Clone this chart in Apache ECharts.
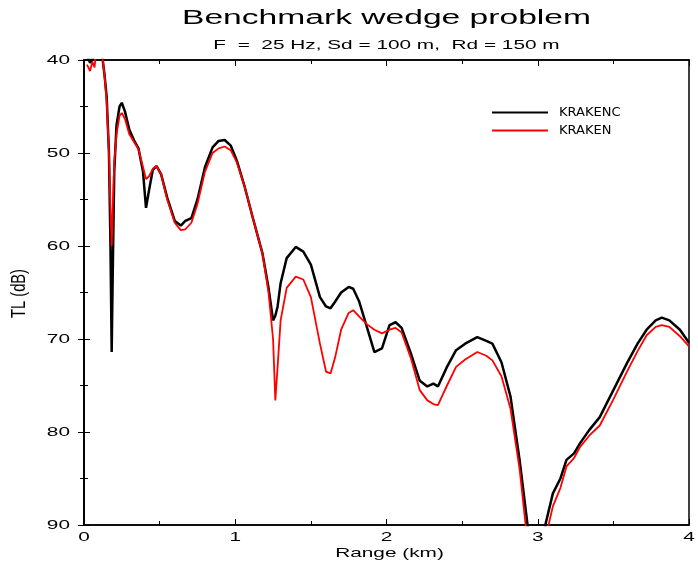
<!DOCTYPE html>
<html><head><meta charset="utf-8">
<script src="https://cdn.jsdelivr.net/npm/echarts@6/dist/echarts.min.js"></script>
<style>html,body{margin:0;padding:0;background:#fff}#c{width:698px;height:571px}</style>
</head><body><div id="c"></div>
<script>
const ranges = [0.02,0.04,0.055,0.07,0.085,0.10,0.12,0.135,0.15,0.165,0.175,0.183,0.19,0.20,0.215,0.235,0.25,0.27,0.30,0.33,0.36,0.39,0.41,0.43,0.455,0.48,0.51,0.55,0.60,0.64,0.67,0.71,0.75,0.80,0.85,0.89,0.93,0.97,1.01,1.06,1.12,1.18,1.22,1.25,1.265,1.28,1.30,1.34,1.40,1.45,1.50,1.56,1.60,1.63,1.66,1.70,1.75,1.78,1.82,1.87,1.92,1.97,2.02,2.06,2.10,2.16,2.22,2.27,2.31,2.34,2.40,2.46,2.52,2.60,2.66,2.70,2.76,2.82,2.88,2.94,3.00,3.05,3.10,3.15,3.19,3.24,3.28,3.34,3.41,3.50,3.59,3.66,3.72,3.78,3.82,3.87,3.94,4.00];
const krakenc = [39.5,40.3,40.0,39.0,37,37,39.5,41.5,44,50,60,71.4,63,52,47,45,44.6,45.5,47.5,48.6,49.5,52,55.9,54,51.8,51.4,52.3,54.8,57.3,57.8,57.3,57,55,51.5,49.4,48.7,48.6,49.2,50.8,53.5,57.2,60.8,64.5,68,67.5,66.5,64,61.3,60.1,60.6,62.0,65.5,66.5,66.7,66,65,64.4,64.6,66,68.7,71.4,71.0,68.5,68.2,68.8,71.5,74.5,75.1,74.8,75.1,73,71.2,70.5,69.8,70.2,70.5,72.5,76.2,83,91,96,90,86.6,85,83,82.3,81.2,79.8,78.4,75.5,72.6,70.5,69,68,67.7,68,69,70.4];
const kraken = [40.5,41.2,40.2,40.8,38,37,39.5,41.5,44.5,50,56,60,56,51,48,46,45.7,46.3,48,48.8,49.6,51.5,52.8,52.5,51.7,51.4,52.3,55,57.5,58.3,58.2,57.5,55.5,52,50,49.5,49.3,49.7,51,53.5,57.2,60.8,65,70,76.6,73,68,64.5,63.3,63.6,65.5,70.5,73.5,73.7,72,69,67.2,66.9,67.6,68.4,69,69.4,69,68.8,69.3,72,75.5,76.6,77,77.1,75,73,72.2,71.4,71.8,72.3,74,77.5,84,93,97,91.5,88,86,83.7,82.8,81.6,80.4,79.3,76.5,73.5,71.3,69.6,68.7,68.5,68.7,69.7,70.8];
const xTicks = [0,1,2,3,4];
const yTicks = [40,50,60,70,80,90];
const titleText = 'Benchmark wedge problem';
const subtitleText = 'F  =  25 Hz, Sd = 100 m,  Rd = 150 m';
const xName = 'Range (km)';
const yName = 'TL (dB)';
const seriesNames = ['KRAKENC','KRAKEN'];

const font = '"Liberation Sans", Arial, sans-serif';
const SX = 1.6;
const chart = echarts.init(document.getElementById('c'), null, {renderer:'canvas'});
const tickCommon = {show:true, inside:true, length:6, lineStyle:{color:'#000', width:1}};
const minorCommon = {show:true, splitNumber:2, length:4, lineStyle:{color:'#000', width:1}};
function stretched(text, x, y, size, opts) {
  opts = opts || {};
  return {type:'text', x:x, y:y, scaleX:opts.scaleX || SX, scaleY:opts.scaleY || 1,
    rotation:opts.rotation || 0, silent:true,
    style:{text:text, fontFamily:font, fontSize:size, fontWeight:opts.weight || 'normal',
      fill:'#000', align:opts.align || 'center', verticalAlign:'middle'}};
}
chart.setOption({
  backgroundColor:'#fff',
  animation:false,
  legend:{
    orient:'vertical', left:487, top:101, itemGap:5, itemWidth:56, itemHeight:2,
    icon:'rect', selectedMode:false,
    textStyle:{fontFamily:'"DejaVu Sans", sans-serif', fontSize:13, color:'#000', padding:[0,0,0,6]},
    data:seriesNames
  },
  grid:{left:84, right:9, top:60, bottom:46, show:true, borderColor:'#000', borderWidth:1.5, backgroundColor:'transparent'},
  xAxis:[
    {type:'value', min:0, max:4, interval:1, position:'bottom',
     axisLine:{show:true, lineStyle:{color:'#000', width:1.5}},
     axisTick:tickCommon, minorTick:minorCommon, splitLine:{show:false},
     axisLabel:{show:false}},
    {type:'value', min:0, max:4, interval:1, position:'top',
     axisLine:{show:true, lineStyle:{color:'#000', width:1.5}},
     axisTick:tickCommon, minorTick:minorCommon, splitLine:{show:false},
     axisLabel:{show:false}}
  ],
  yAxis:[
    {type:'value', min:40, max:90, interval:10, inverse:true, position:'left',
     axisLine:{show:true, lineStyle:{color:'#000', width:1.5}},
     axisTick:tickCommon, minorTick:minorCommon, splitLine:{show:false},
     axisLabel:{show:false}},
    {type:'value', min:40, max:90, interval:10, inverse:true, position:'right',
     axisLine:{show:true, lineStyle:{color:'#000', width:1.5}},
     axisTick:tickCommon, minorTick:minorCommon, splitLine:{show:false},
     axisLabel:{show:false}}
  ],
  series:[
    {name:seriesNames[0], type:'line', showSymbol:false, symbol:'none', clip:true,
     data:ranges.map((r,i)=>[r,krakenc[i]]),
     lineStyle:{color:'#000', width:2.5}, itemStyle:{color:'#000'}, z:2},
    {name:seriesNames[1], type:'line', showSymbol:false, symbol:'none', clip:true,
     data:ranges.map((r,i)=>[r,kraken[i]]),
     lineStyle:{color:'#ff0000', width:1.8}, itemStyle:{color:'#ff0000'}, z:3}
  ]
});

// Text drawn with horizontal stretch, positioned through the chart's own scales
const grid = chart.getModel().getComponent('grid').coordinateSystem.getRect();
const cx = grid.x + grid.width / 2;
const cy = grid.y + grid.height / 2;
const g = [];
g.push(stretched(titleText, cx, 18, 20, {scaleX:1.68}));
g.push(stretched(subtitleText, cx, 45, 13));
xTicks.forEach(v => {
  const px = chart.convertToPixel({xAxisIndex:0}, v);
  g.push(stretched(String(v), px, grid.y + grid.height + 12, 13));
});
yTicks.forEach(v => {
  const py = chart.convertToPixel({yAxisIndex:0}, v);
  g.push(stretched(String(v), grid.x - 14, py, 13, {align:'right'}));
});
g.push(stretched(xName, cx + 3, grid.y + grid.height + 28, 13));
g.push(stretched(yName, 20, cy + 1, 14, {rotation:Math.PI/2, scaleX:1.05, scaleY:1.4}));
chart.setOption({graphic:{elements:g}});
</script></body></html>
